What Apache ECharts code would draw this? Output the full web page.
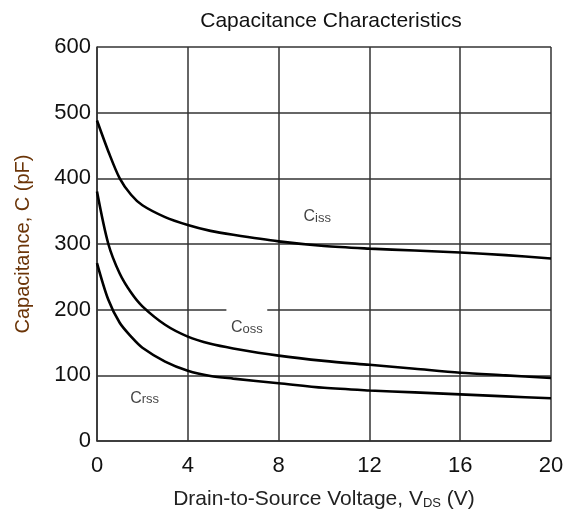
<!DOCTYPE html>
<html>
<head>
<meta charset="utf-8">
<script src="https://cdn.jsdelivr.net/npm/echarts@6/dist/echarts.min.js"></script>
<style>
  html, body { margin: 0; padding: 0; background: #fff; }
  #chart { width: 575px; height: 524px; }
</style>
</head>
<body>
<div id="chart"></div>
<script>
// drain-source voltage (V)
const vds = [0, 0.5, 1, 1.5, 2, 3, 4, 5, 6, 8, 10, 12, 14, 16, 18, 20];
// capacitance (pF)
const ciss = [488, 441, 400, 375, 359, 341, 329, 320, 314, 304, 297, 293, 290, 287, 283, 278];
const coss = [380, 300, 255, 226, 205, 177, 159, 148, 141, 130, 122, 116, 110, 104, 100, 96];
const crss = [271, 215, 180, 159, 142, 121, 107, 99, 95, 88, 81, 77, 74, 71, 68, 65];
const xTicks = [0, 4, 8, 12, 16, 20];
const yTicks = [0, 100, 200, 300, 400, 500, 600];

// curve labels: [V, C, name, subscript]
const curveLabels = [
  [9.7, 341, "C", "iss"],
  [6.6, 172, "C", "oss"],
  [2.1, 65, "C", "rss"]
];

const chart = echarts.init(document.getElementById("chart"));

function pairs(ys) {
  return vds.map((v, i) => [v, ys[i]]);
}

const lineSeries = (name, ys) => ({
  name: name,
  type: "line",
  data: pairs(ys),
  smooth: 0.3,
  showSymbol: false,
  lineStyle: { color: "#000", width: 2.6 },
  z: 3
});

const option = {
  animation: false,
  backgroundColor: "#fff",
  textStyle: { fontFamily: "Liberation Sans, Arial, sans-serif" },
  title: {
    text: "Capacitance Characteristics",
    left: 326,
    textAlign: "center",
    top: 6,
    textStyle: { fontSize: 21, fontWeight: "normal", color: "#111" }
  },
  grid: { left: 97, right: 24, top: 47, bottom: 83, show: false },
  xAxis: {
    type: "value",
    min: 0,
    max: 20,
    interval: 4,
    name: "Drain-to-Source Voltage, V{sub|DS} (V)",
    nameLocation: "middle",
    nameGap: 48,
    nameTextStyle: {
      fontSize: 21,
      color: "#222",
      rich: { sub: { fontSize: 13, verticalAlign: "bottom", padding: [7, 0, 0, 0], color: "#222" } }
    },
    axisLine: { show: true, lineStyle: { color: "#333", width: 1.5 } },
    axisTick: { show: false },
    axisLabel: { fontSize: 22, color: "#111", margin: 14 },
    splitLine: { show: true, lineStyle: { color: "#333", width: 1.5 } }
  },
  yAxis: {
    type: "value",
    min: 0,
    max: 600,
    interval: 100,
    name: "Capacitance, C (pF)",
    nameLocation: "middle",
    nameGap: 64,
    nameTextStyle: { fontSize: 20, color: "#6b3508" },
    axisLine: { show: true, lineStyle: { color: "#333", width: 1.5 } },
    axisTick: { show: false },
    axisLabel: { fontSize: 22, color: "#111", margin: 6 },
    splitLine: { show: true, lineStyle: { color: "#333", width: 1.5 } }
  },
  series: [
    lineSeries("Ciss", ciss),
    lineSeries("Coss", coss),
    Object.assign(lineSeries("Crss", crss), {
      // small white gap in the 200 pF grid line next to the Coss label
      markArea: {
        silent: true,
        itemStyle: { color: "#fff" },
        data: [[{ coord: [5.7, 197] }, { coord: [7.5, 203] }]]
      }
    }),
    {
      type: "scatter",
      data: curveLabels.map(d => [d[0], d[1]]),
      symbolSize: 0,
      silent: true,
      z: 4,
      label: {
        show: true,
        position: "inside",
        formatter: p => "{c|" + curveLabels[p.dataIndex][2] + "}{s|" + curveLabels[p.dataIndex][3] + "}",
        rich: {
          c: { fontSize: 16, color: "#111" },
          s: { fontSize: 13, color: "#111", padding: [3, 0, 0, 0] }
        }
      }
    }
  ]
};

chart.setOption(option);
</script>
</body>
</html>
